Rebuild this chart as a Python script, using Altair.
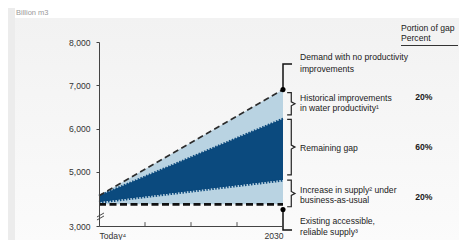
import altair as alt
import pandas as pd

# ---- data (billion m3) ----
years = [2010, 2030]
demand = [4450, 6900]              # demand with no productivity improvements
after_productivity = [4450, 6230]  # demand after historical productivity improvements
bau_supply = [4300, 4810]          # supply increase under business-as-usual
existing_supply = [4250, 4250]     # existing accessible, reliable supply

y_ticks = [3750, 5000, 6000, 7000, 8000]
x_ticks = [2010, 2030]
minor_x = [2015, 2020, 2025]

label_lines = [
    "Demand with no productivity", "improvements",
    "Historical improvements", "in water productivity¹",
    "Remaining gap",
    "Increase in supply² under", "business-as-usual",
    "Existing accessible,", "reliable supply³",
]
label_values = [7654, 7376, 6714, 6469, 5559, 4582, 4351, 3866, 3612]
pct_text = ["20%", "60%", "20%"]
pct_values = [6730, 5575, 4420]

FONT = "Liberation Sans, Arial, sans-serif"
DARK = "#0b4a7e"
LIGHT = "#b9d3e2"
FS = 8.6

xs = alt.Scale(domain=[2010, 2030], nice=False, zero=False)
ys = alt.Scale(domain=[3750, 8000], nice=False, zero=False)
xaxis = alt.Axis(values=x_ticks, labelExpr="datum.value == 2010 ? 'Today⁴' : '2030'",
                 ticks=False, grid=False, title=None, domainColor="#444", zindex=1,
                 labelPadding=5, labelFontSize=FS, labelColor="#333", labelFont=FONT)
yaxis = alt.Axis(values=y_ticks,
                 labelExpr="datum.value == 3750 ? '3,000' : format(datum.value, ',')",
                 grid=False, title=None, tickSize=3, domainColor="#444", tickColor="#444",
                 zindex=1, labelPadding=6, labelFontSize=FS, labelColor="#333", labelFont=FONT)


def X(f):
    return alt.X(f, type="quantitative", scale=xs, axis=xaxis)


def Y(f):
    return alt.Y(f, type="quantitative", scale=ys, axis=yaxis)


df = pd.DataFrame({"year": years, "demand": demand, "prod": after_productivity,
                   "bau": bau_supply, "exist": existing_supply})
base = alt.Chart(df)

# background panel
bg = alt.Chart(pd.DataFrame({"a": [0]})).mark_rect(
    color=alt.Gradient(gradient="linear", x1=0, x2=0, y1=0, y2=1,
                       stops=[alt.GradientStop(color="#f2f2f2", offset=0),
                              alt.GradientStop(color="#fbfbfb", offset=1)])
).encode(x=alt.value(-84), x2=alt.value(360), y=alt.value(-24), y2=alt.value(200))
strip = alt.Chart(pd.DataFrame({"a": [0]})).mark_rect(color="#ececec").encode(
    x=alt.value(-91), x2=alt.value(-84), y=alt.value(-34), y2=alt.value(200))

upper = base.mark_area(color=LIGHT).encode(x=X("year"), y=Y("demand"), y2="prod")
dark = base.mark_area(color=DARK).encode(x=X("year"), y=Y("prod"), y2="bau")
lower = base.mark_area(color=LIGHT).encode(x=X("year"), y=Y("bau"), y2="exist")

dot_bau = base.mark_line(color=DARK, strokeDash=[1.5, 1.5], strokeWidth=3).encode(
    x=X("year"), y=Y("bau"))
dot_prod = base.mark_line(color=DARK, strokeDash=[1.5, 1.5], strokeWidth=2).encode(
    x=X("year"), y=Y("prod"))
dem_line = base.mark_line(color="#2b2b2b", strokeDash=[6, 3.5], strokeWidth=1.6).encode(
    x=X("year"), y=Y("demand"))
sup_line = base.mark_line(color="#111", strokeDash=[7, 3.5], strokeWidth=2.8).encode(
    x=X("year"), y=Y("exist"))

ticks = alt.Chart(pd.DataFrame({"year": minor_x, "lo": [3750] * 3, "hi": [3840] * 3})).mark_rule(
    color="#555").encode(x=X("year"), y=Y("lo"), y2="hi")

# axis break
brk = pd.DataFrame({"g": [0, 0, 1, 1], "o": [0, 1, 0, 1],
                    "year": [2009.78, 2010.54, 2009.78, 2010.54],
                    "v": [3958, 4050, 3889, 3981]})
brk_l = alt.Chart(brk).mark_line(color="#444", strokeWidth=1).encode(
    x=X("year"), y=Y("v"), detail="g:N", order="o:Q")

# connectors and dots
end = years[-1]
dots = alt.Chart(pd.DataFrame({"year": [end, end],
                               "v": [demand[-1], existing_supply[-1] - 120]})).mark_circle(
    size=26, color="black", opacity=1).encode(x=X("year"), y=Y("v"))
conn = pd.DataFrame({
    "g": [0, 0, 0, 1, 1, 1], "o": [0, 1, 2, 0, 1, 2],
    "year": [end, end, end + 0.98, end, end, end + 0.98],
    "v": [demand[-1], 7490, 7490, existing_supply[-1] - 120, 3660, 3660],
})
conn_l = alt.Chart(conn).mark_line(color="#111", strokeWidth=1.5).encode(
    x=X("year"), y=Y("v"), detail="g:N", order="o:Q")

# brackets
brackets = [
    (demand[-1] - 70, after_productivity[-1] + 85),
    (after_productivity[-1] - 15, bau_supply[-1] + 120),
    (bau_supply[-1], existing_supply[-1] - 55),
]
rows = []
for gi, (top, bot) in enumerate(brackets):
    mid = (top + bot) / 2
    d = 45
    pts = [(end + 0.45, top), (end + 0.9, top), (end + 0.9, mid + d), (end + 1.3, mid),
           (end + 0.9, mid - d), (end + 0.9, bot), (end + 0.45, bot)]
    for oi, (xx, vv) in enumerate(pts):
        rows.append({"g": gi, "o": oi, "year": xx, "v": vv})
br_l = alt.Chart(pd.DataFrame(rows)).mark_line(color="#222", strokeWidth=1.2).encode(
    x=X("year"), y=Y("v"), detail="g:N", order="o:Q")

labels = alt.Chart(pd.DataFrame({"year": [end + 1.85] * len(label_lines),
                                 "v": label_values, "t": label_lines})).mark_text(
    align="left", baseline="middle", font=FONT, fontSize=FS, color="#1a1a1a").encode(
    x=X("year"), y=Y("v"), text="t:N")
pcts = alt.Chart(pd.DataFrame({"year": [end + 15.3] * 3, "v": pct_values, "t": pct_text})).mark_text(
    align="center", baseline="middle", font=FONT, fontSize=FS, fontWeight="bold",
    color="#1a1a1a").encode(x=X("year"), y=Y("v"), text="t:N")

head1 = alt.Chart(pd.DataFrame({"t": ["Portion of gap"]})).mark_text(
    align="left", baseline="middle", font=FONT, fontSize=FS, color="#1a1a1a").encode(
    x=alt.value(302), y=alt.value(-14), text="t:N")
head2 = alt.Chart(pd.DataFrame({"t": ["Percent"]})).mark_text(
    align="left", baseline="middle", font=FONT, fontSize=FS, color="#1a1a1a").encode(
    x=alt.value(302), y=alt.value(-4), text="t:N")
hrule = alt.Chart(pd.DataFrame({"a": [0]})).mark_rule(color="#333", strokeWidth=1).encode(
    x=alt.value(302), x2=alt.value(359), y=alt.value(3.5))
unit = alt.Chart(pd.DataFrame({"t": ["Billion m3"]})).mark_text(
    align="left", baseline="middle", font=FONT, fontSize=7.5, color="#9a9a9a").encode(
    x=alt.value(-83), y=alt.value(-29), text="t:N")

chart = alt.layer(
    bg, strip, upper, dark, lower, dot_bau, dot_prod, dem_line, sup_line, ticks, brk_l,
    conn_l, dots, br_l, labels, pcts, head1, head2, hrule, unit
).properties(
    width=184, height=184,
    autosize=alt.AutoSizeParams(type="none"),
    padding={"left": 91, "top": 34, "right": 176, "bottom": 14},
).configure_view(stroke=None)

chart.save("out.html", embed_options={"renderer": "svg", "actions": False})
